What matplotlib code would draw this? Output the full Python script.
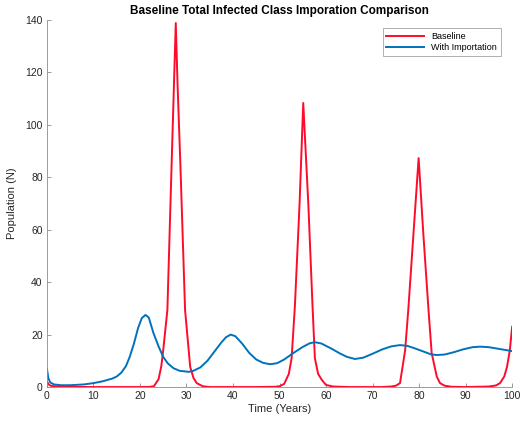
import numpy as np
import matplotlib
matplotlib.use("Agg")
import matplotlib.pyplot as plt

# Values (time in years, population).
t_base = [0, 0.5, 1, 3, 10, 20, 22, 23, 24, 24.6, 25, 25.9, 26.8, 27.3, 27.7,
          28.1, 28.7, 29.7, 30.8, 31.5, 32.2, 33.5, 35, 45, 49, 50, 51, 52,
          52.6, 53.3, 54.3, 55.1, 56.2, 57.1, 57.6, 58.3, 59.1, 60, 61.5, 65,
          72, 74, 75, 75.9, 77, 77.7, 78.8, 79.9, 80.9, 82, 82.7, 83.8, 84.5,
          85.5, 87, 90, 95, 96.5, 97.4, 98.3, 98.9, 99.5, 100]
y_base = [2, 0.8, 0.4, 0.1, 0, 0, 0.05, 0.3, 3, 8, 14, 29.4, 84.4, 114.6, 138.8,
          114.6, 84.4, 29.4, 7.7, 3.5, 1.5, 0.3, 0, 0, 0.1, 0.3, 1.2, 5,
          11, 30.7, 69.5, 108.3, 69.5, 30.7, 11, 5, 2.7, 0.8, 0.2, 0,
          0, 0.2, 0.5, 1.5, 14, 30, 58.7, 87.3, 58.7, 30, 13, 4, 1.5,
          0.5, 0.1, 0, 0.2, 0.6, 1.5, 4, 7.7, 14, 23]

t_imp = [0, 0.3, 0.7, 1.5, 3, 5, 8, 10, 12, 14, 15, 16, 17, 17.8, 18.7, 19.6,
         20.4, 21.2, 21.9, 22.9, 24, 25, 26, 27.2, 28.5, 30.5, 31.5, 33, 34.5,
         36, 37.5, 38.5, 39.5, 40.5, 42, 43.5, 45, 46.5, 48, 49.5, 51, 53, 55,
         56.5, 57.6, 59, 61, 63, 64.5, 66.2, 68, 70, 72, 74, 75.9, 77.5, 79,
         81, 82.5, 83.8, 85.5, 87.5, 89.5, 91.5, 93.1, 95, 97, 99, 100]
y_imp = [7, 3.5, 1.8, 1.0, 0.7, 0.7, 1.0, 1.5, 2.2, 3.2, 4, 5.5, 8, 11.5, 16.5, 22.5,
         26.3, 27.5, 26.5, 20.6, 15.5, 11.5, 9, 7.2, 6.2, 5.8, 6.2, 7.5, 10,
         13.5, 17, 19, 20, 19.4, 16.5, 13, 10.5, 9.2, 8.7, 9.1, 10.5, 13, 15.3,
         16.7, 17.1, 16.6, 14.8, 12.8, 11.5, 10.7, 11.2, 12.7, 14.3, 15.5, 16, 15.7, 14.8,
         13.5, 12.5, 12.2, 12.4, 13.3, 14.4, 15.2, 15.4, 15.2, 14.6, 14, 13.7]

x_ticks = [0, 10, 20, 30, 40, 50, 60, 70, 80, 90, 100]
y_ticks = [0, 20, 40, 60, 80, 100, 120, 140]

plt.rcParams["font.family"] = ["Liberation Sans", "DejaVu Sans"]

fig = plt.figure(figsize=(5.21, 4.23), dpi=100)
ax = fig.add_axes([0.09, 0.085, 0.893, 0.868])

ax.plot(t_base, y_base, color="#FF0A2A", lw=1.4, solid_joinstyle="round",
        label="Baseline")
ax.plot(t_imp, y_imp, color="#0072BD", lw=1.4, solid_joinstyle="round",
        label="With Importation")

ax.set_xlim(0, 100)
ax.set_ylim(0, 140)
ax.set_xticks(x_ticks)
ax.set_yticks(y_ticks)

for side in ["top", "right"]:
    ax.spines[side].set_visible(False)
for side in ["left", "bottom"]:
    ax.spines[side].set_color("#8c8c8c")
    ax.spines[side].set_linewidth(0.6)
ax.tick_params(direction="in", length=3, width=0.6, color="#8c8c8c",
               labelsize=7.5, labelcolor="#262626", pad=3)

ax.set_xlabel("Time (Years)", fontsize=8, color="#262626", labelpad=2)
ax.set_ylabel("Population (N)", fontsize=8, color="#262626", labelpad=6)
ax.set_title("Baseline Total Infected Class Imporation Comparison",
             fontsize=8.5, fontweight="bold", color="black", pad=4)

leg = ax.legend(loc="upper right", fontsize=6.5, frameon=True, fancybox=False,
                edgecolor="#8c8c8c", handlelength=4.2, borderpad=0.4,
                labelspacing=0.3, bbox_to_anchor=(0.985, 0.99))
leg.get_frame().set_linewidth(0.6)

fig.savefig("out.png", dpi=100)
